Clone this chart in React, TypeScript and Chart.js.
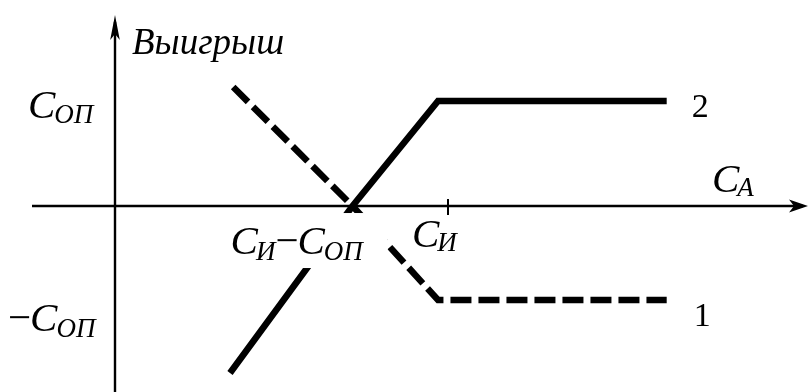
import React, { useEffect, useRef } from "react";
import { Chart, registerables } from "chart.js";
Chart.register(...registerables);

// Payoff curves (x = C_A, y = выигрыш), values in diagram units
const line2X = [1.036, 2.14, 2.91, 4.97];
const line2Y = [-1.59, 0, 1, 1];
const line1X = [1.02, 2.14, 2.91, 4.97];
const line1Y = [1.18, 0, -0.895, -0.895];

// Named axis marks
const C_OP = 1;
const C_OP_NEG = -0.895;
const C_I = 3;
const C_I_MINUS_C_OP = 2.14;
const X_RANGE = [-1.036, 6.252];
const Y_RANGE = [-1.771, 1.962];

const SERIF = "Liberation Serif";
const BIG = 41;
const SUB = 27;

function toPts(xs: number[], ys: number[]) {
  return xs.map((x, i) => ({ x, y: ys[i] }));
}

function drawSub(
  ctx: CanvasRenderingContext2D,
  parts: { t: string; size: number; dy: number; italic?: boolean; kern?: number }[],
  x: number,
  baseline: number
) {
  let cx = x;
  for (const p of parts) {
    ctx.font = `${p.italic === false ? "normal" : "italic"} ${p.size}px "${SERIF}"`;
    cx += p.kern || 0;
    ctx.fillText(p.t, cx, baseline + p.dy);
    cx += ctx.measureText(p.t).width;
  }
  return cx;
}

const diagramPlugin = {
  id: "diagram",
  beforeDatasetsDraw(chart: any) {
    const ctx: CanvasRenderingContext2D = chart.ctx;
    const xs = chart.scales.x;
    const ys = chart.scales.y;
    const x0 = xs.getPixelForValue(0);
    const y0 = ys.getPixelForValue(0);
    const W = chart.width;
    const H = chart.height;
    ctx.save();
    ctx.strokeStyle = "#000";
    ctx.fillStyle = "#000";
    ctx.lineWidth = 2.4;
    ctx.beginPath();
    ctx.moveTo(32, y0);
    ctx.lineTo(W - 6, y0);
    ctx.stroke();
    ctx.beginPath();
    ctx.moveTo(x0, H);
    ctx.lineTo(x0, 22);
    ctx.stroke();
    const tx = W - 1;
    ctx.beginPath();
    ctx.moveTo(tx, y0);
    ctx.lineTo(tx - 19, y0 - 6.5);
    ctx.lineTo(tx - 14, y0);
    ctx.lineTo(tx - 19, y0 + 6.5);
    ctx.closePath();
    ctx.fill();
    const ty = 15;
    ctx.beginPath();
    ctx.moveTo(x0, ty);
    ctx.lineTo(x0 - 4.8, ty + 25);
    ctx.lineTo(x0, ty + 19);
    ctx.lineTo(x0 + 4.8, ty + 25);
    ctx.closePath();
    ctx.fill();
    const tI = xs.getPixelForValue(C_I);
    ctx.lineWidth = 2;
    ctx.beginPath();
    ctx.moveTo(tI, y0 - 7);
    ctx.lineTo(tI, y0 + 9);
    ctx.stroke();
    ctx.restore();
  },
  afterDatasetsDraw(chart: any) {
    const ctx: CanvasRenderingContext2D = chart.ctx;
    const xs = chart.scales.x;
    const ys = chart.scales.y;
    const x0 = xs.getPixelForValue(0);
    const y0 = ys.getPixelForValue(0);
    ctx.save();
    ctx.fillStyle = "#000";
    ctx.textBaseline = "alphabetic";
    ctx.textAlign = "left";

    ctx.font = `italic 37px "${SERIF}"`;
    ctx.fillText("Выигрыш", x0 + 17, 54);

    const yOP = ys.getPixelForValue(C_OP);
    drawSub(ctx, [
      { t: "C", size: BIG, dy: 0 },
      { t: "ОП", size: SUB, dy: 5, kern: -1 },
    ], x0 - 87, yOP + 17);

    const yOPn = ys.getPixelForValue(C_OP_NEG);
    drawSub(ctx, [
      { t: "−", size: BIG, dy: 0, italic: false },
      { t: "C", size: BIG, dy: 0, kern: -1 },
      { t: "ОП", size: SUB, dy: 6, kern: -1 },
    ], x0 - 107, yOPn + 31);

    const xv = xs.getPixelForValue(C_I_MINUS_C_OP);
    ctx.fillStyle = "#fff";
    ctx.fillRect(xv - 127, y0 + 7, 162, 55);
    ctx.fillStyle = "#000";
    const cx = drawSub(ctx, [
      { t: "C", size: BIG, dy: 0 },
      { t: "И", size: SUB, dy: 6, kern: -2 },
    ], xv - 122, y0 + 48);
    drawSub(ctx, [
      { t: "−", size: BIG, dy: 0, italic: false, kern: 0 },
      { t: "C", size: BIG, dy: 0, kern: -1 },
      { t: "ОП", size: SUB, dy: 6, kern: -1 },
    ], cx, y0 + 48);

    const xI = xs.getPixelForValue(C_I);
    drawSub(ctx, [
      { t: "C", size: BIG, dy: 0 },
      { t: "И", size: SUB, dy: 4, kern: -2 },
    ], xI - 36, y0 + 41);

    drawSub(ctx, [
      { t: "C", size: BIG, dy: 0 },
      { t: "A", size: SUB, dy: 4, kern: -2 },
    ], chart.width - 97, y0 - 14);

    ctx.font = `normal 34px "${SERIF}"`;
    const xe2 = xs.getPixelForValue(line2X[line2X.length - 1]);
    const ye2 = ys.getPixelForValue(line2Y[line2Y.length - 1]);
    ctx.fillText("2", xe2 + 25, ye2 + 16);
    const xe1 = xs.getPixelForValue(line1X[line1X.length - 1]);
    const ye1 = ys.getPixelForValue(line1Y[line1Y.length - 1]);
    ctx.fillText("1", xe1 + 27, ye1 + 26);
    ctx.restore();
  },
};

export default function App() {
  const ref = useRef<HTMLCanvasElement | null>(null);
  useEffect(() => {
    document.body.style.margin = "0";
    const canvas = ref.current!;
    const chart = new Chart(canvas, {
      type: "line",
      data: {
        datasets: [
          {
            label: "1",
            data: toPts(line1X, line1Y),
            borderColor: "#000",
            borderWidth: 6.5,
            borderDash: [21, 7],
            borderDashOffset: -7,
            borderCapStyle: "butt",
            borderJoinStyle: "miter",
            pointRadius: 0,
            tension: 0,
            fill: false,
          },
          {
            label: "2",
            data: toPts(line2X, line2Y),
            borderColor: "#000",
            borderWidth: 6.5,
            borderCapStyle: "butt",
            borderJoinStyle: "miter",
            pointRadius: 0,
            tension: 0,
            fill: false,
          },
        ],
      },
      options: {
        animation: false,
        responsive: false,
        devicePixelRatio: 1,
        layout: { padding: 0 },
        plugins: {
          legend: { display: false },
          tooltip: { enabled: false },
          title: { display: false },
        },
        scales: {
          x: { type: "linear", min: X_RANGE[0], max: X_RANGE[1], display: false },
          y: { type: "linear", min: Y_RANGE[0], max: Y_RANGE[1], display: false },
        },
      },
      plugins: [diagramPlugin],
    } as any);
    return () => chart.destroy();
  }, []);
  return (
    <div style={{ width: 809, height: 392, background: "#fff" }}>
      <canvas ref={ref} width={809} height={392} style={{ display: "block" }} />
    </div>
  );
}
